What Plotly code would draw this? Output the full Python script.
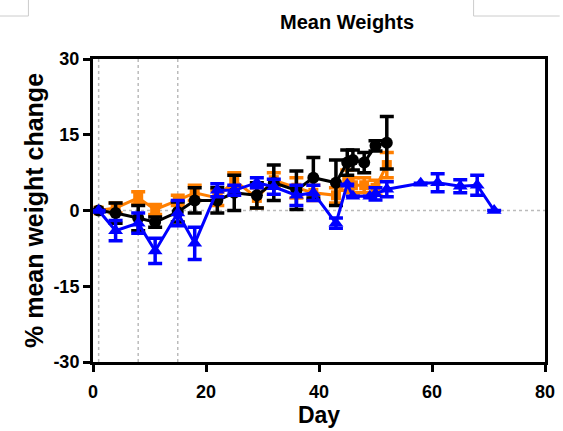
import plotly.graph_objects as go

days = [1, 4, 8, 11, 15, 18, 22, 25, 29, 32, 36, 39, 43, 45, 46, 48, 50, 52]

black_y = [0, -0.5, -1.5, -2.3, -0.3, 2.0, 2.0, 3.5, 3.0, 5.5, 4.0, 6.5, 5.5, 9.5, 10.0, 9.5, 12.8, 13.4]
black_e = [None, 2.0, 2.5, 1.0, 2.0, 2.5, 2.5, 3.5, 2.5, 3.5, 3.8, 4.0, 4.5, 2.5, 2.0, 2.0, 1.0, 5.2]

orange_y = [0, 0.5, 2.5, 0.2, 2.0, 3.5, 2.5, 6.0, 2.5, 6.0, 4.5, 3.5, 3.0, 6.0, 5.0, 5.0, 4.5, 9.0]
orange_e = [None, 1.0, 1.2, 1.0, 1.0, 1.5, 1.5, 1.5, 2.0, 1.5, 2.0, 1.5, 1.5, 2.0, 1.5, 1.5, 1.5, 2.5]

blue_days = [1, 4, 8, 11, 15, 18, 22, 25, 29, 32, 36, 39, 43, 45, 46, 49, 50, 52, 58, 61, 65, 68, 71]
blue_y = [0, -4.0, -2.5, -8.0, -0.5, -6.5, 4.0, 4.0, 5.5, 4.7, 3.0, 3.5, -2.5, 5.2, 2.8, 2.8, 3.3, 4.2, 5.4, 5.5, 4.8, 5.0, 0]
blue_e = [None, 2.0, 2.0, 2.5, 2.5, 3.2, 1.3, 1.0, 1.0, 1.5, 2.0, 1.5, 1.0, None, None, None, 1.2, 1.5, None, 1.8, 1.3, 2.0, None]

dotted_days = [1, 8, 15]
x_ticks = [0, 20, 40, 60, 80]
y_ticks = [-30, -15, 0, 15, 30]
y_tick_text = ["-30", "-15", "0", "15", "30"]

FONT = "Liberation Sans, Arial, sans-serif"

L, R, T, B = 93, 8, 59, 69
W, H = 563, 431
PW, PH = W - L - R, H - T - B

fig = go.Figure()

def add_series(x, y, e, color, symbol, size):
    fig.add_trace(go.Scatter(
        x=x, y=y, mode="lines+markers",
        line=dict(color=color, width=3),
        marker=dict(symbol=symbol, size=size, color=color),
        error_y=dict(type="data", array=e, visible=True, color=color, thickness=3.5, width=7),
        showlegend=False, cliponaxis=False,
    ))

add_series(days, orange_y, orange_e, "#FF7F00", "square", 10)
add_series(days, black_y, black_e, "#000000", "circle", 12)
add_series(blue_days, blue_y, blue_e, "#0000FF", "triangle-up", 13)

for d in dotted_days:
    fig.add_shape(type="line", xref="x", yref="paper", x0=d, x1=d, y0=0, y1=1,
                  line=dict(color="#BBBBBB", width=1.5, dash="dot"), layer="below")
fig.add_shape(type="line", xref="paper", yref="y", x0=0, x1=1, y0=0, y1=0,
              line=dict(color="#BBBBBB", width=1.5, dash="dot"), layer="below")

def px_x(p):
    return (p - L) / PW
def px_y(p):
    return (H - B - p) / PH

# faint page-corner frames at the top
for (xa, xb) in [(-5, 27), (482, 570)]:
    fig.add_shape(type="line", xref="paper", yref="paper", x0=px_x(xa), x1=px_x(xb), y0=px_y(16), y1=px_y(16),
                  line=dict(color="#CCCCCC", width=1))
for xv in [27, 482]:
    fig.add_shape(type="line", xref="paper", yref="paper", x0=px_x(xv), x1=px_x(xv), y0=px_y(-5), y1=px_y(16),
                  line=dict(color="#CCCCCC", width=1))

fig.add_annotation(text="Mean Weights", xref="paper", yref="paper", x=px_x(353), y=px_y(22),
                   xanchor="center", yanchor="middle",
                   showarrow=False, font=dict(family=FONT, size=20, color="black", weight="bold"))

axis_common = dict(showgrid=False, zeroline=False, showline=True, linecolor="black", linewidth=3,
                   mirror=True, ticks="outside", ticklen=7, tickwidth=2.5, tickcolor="black",
                   tickfont=dict(family=FONT, size=18, color="black", weight="bold"))

fig.update_xaxes(range=[0, 80], tickvals=x_ticks, ticklabelstandoff=4,
                 title=dict(text="Day", font=dict(family=FONT, size=23, color="black", weight="bold"), standoff=4),
                 **axis_common)
fig.update_yaxes(range=[-30, 30], tickvals=y_ticks, ticktext=y_tick_text,
                 title=dict(text="% mean weight change", font=dict(family=FONT, size=25, color="black", weight="bold"), standoff=3),
                 **axis_common)

fig.update_layout(width=W, height=H, margin=dict(l=L, r=R, t=T, b=B),
                  plot_bgcolor="white", paper_bgcolor="white")

fig.write_html("out.html")
